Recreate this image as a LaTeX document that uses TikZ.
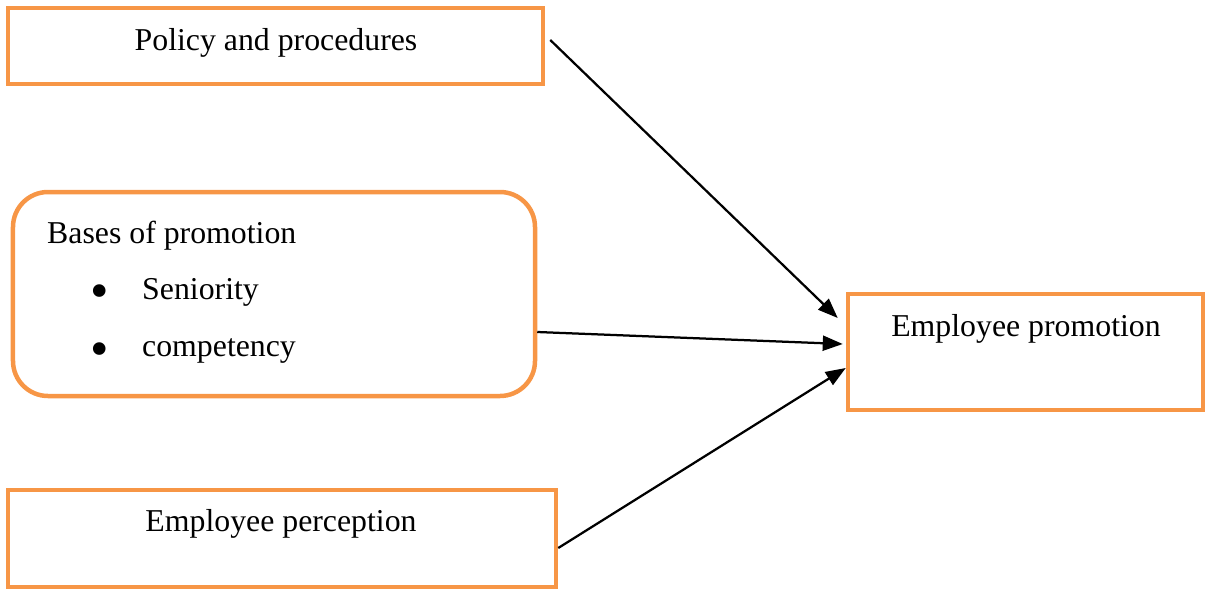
\documentclass[tikz,border=0pt]{standalone}
\usepackage{fontspec}
\setmainfont{Liberation Serif}
\usetikzlibrary{arrows.meta}
\definecolor{boxorange}{HTML}{F79646}
\newcommand{\bigbullet}{{\fontsize{30}{30}\selectfont\textbullet}}
\begin{document}
\begin{tikzpicture}[font=\fontsize{18.1}{21}\selectfont]
    \useasboundingbox (0,0) rectangle (24.1,-11.78);

    \begin{scope}[every node/.style={draw=boxorange, line width=0.09cm, inner sep=0pt}]
        \node[minimum width=10.7cm, minimum height=1.52cm] (policy) at (5.51,-0.92) {};
        \node[minimum width=10.44cm, minimum height=4.08cm, rounded corners=0.7cm] (bases) at (5.48,-5.88) {};
        \node[minimum width=7.1cm, minimum height=2.32cm] (promotion) at (20.51,-7.04) {};
        \node[minimum width=10.96cm, minimum height=1.94cm] (perception) at (5.64,-10.77) {};
    \end{scope}

    \node (policytext) at (5.52,-0.85) {Policy and procedures};
    \node[anchor=west] (basestext) at (0.82,-4.71) {Bases of promotion};
    \node (bullet1) at (2.0,-5.94) {\bigbullet};
    \node[anchor=west] (seniority) at (2.72,-5.85) {Seniority};
    \node (bullet2) at (2.0,-7.1) {\bigbullet};
    \node[anchor=west] (competency) at (2.72,-7.01) {competency};
    \node (promotiontext) at (20.52,-6.57) {Employee promotion};
    \node (perceptiontext) at (5.62,-10.47) {Employee perception};

    \begin{scope}[every path/.style={draw, line width=0.045cm, -{Triangle[length=0.4cm,width=0.3cm]}}]
        \path ([shift={(0.1,0.12)}]policy.east) -- ([shift={(-0.16,0.68)}]promotion.west);
        \path ([shift={(0,-0.76)}]bases.east) -- ([shift={(-0.06,0.16)}]promotion.west);
        \path ([shift={(0,-0.19)}]perception.east) -- ([shift={(0,-0.32)}]promotion.west);
    \end{scope}
\end{tikzpicture}
\end{document}
